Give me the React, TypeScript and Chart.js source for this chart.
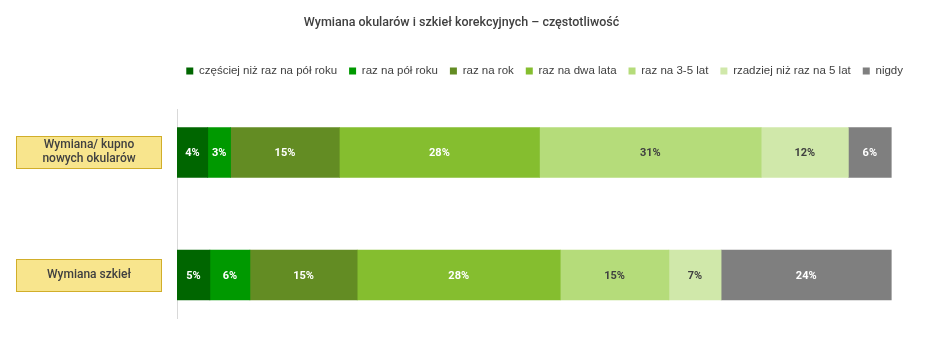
import React, { useEffect, useRef } from "react";
import { Chart, registerables } from "chart.js";

Chart.register(...registerables);

const title = "Wymiana okularów i szkieł korekcyjnych – częstotliwość";
const categories = ["Wymiana/ kupno\nnowych okularów", "Wymiana szkieł"];
const seriesNames = [
  "częściej niż raz na pół roku",
  "raz na pół roku",
  "raz na rok",
  "raz na dwa lata",
  "raz na 3-5 lat",
  "rzadziej niż raz na 5 lat",
  "nigdy",
];
const okulary = [4.3, 3.2, 15.2, 28.0, 31.0, 12.2, 6.0];
const szkla = [4.6, 5.6, 15.0, 28.4, 15.2, 7.3, 23.8];
const colors = ["#006600", "#009900", "#638C23", "#85BE2F", "#B5DC7A", "#D0E8AA", "#7F7F7F"];
const labelColors = ["#ffffff", "#ffffff", "#ffffff", "#ffffff", "#404040", "#404040", "#ffffff"];

const valueLabels = {
  id: "valueLabels",
  afterDatasetsDraw(chart: any) {
    const ctx = chart.ctx;
    ctx.save();
    ctx.font = "bold 11px Roboto";
    ctx.textAlign = "center";
    ctx.textBaseline = "middle";
    chart.data.datasets.forEach((ds: any, di: number) => {
      const meta = chart.getDatasetMeta(di);
      meta.data.forEach((el: any, i: number) => {
        const v = ds.data[i].x;
        const cx = (el.x + el.base) / 2;
        ctx.fillStyle = labelColors[di];
        ctx.fillText(Math.round(v) + "%", cx, el.y + 1);
      });
    });
    ctx.restore();
  },
};

const categoryBoxes = {
  id: "categoryBoxes",
  afterDraw(chart: any) {
    const ctx = chart.ctx;
    const ys = chart.scales.y;
    const right = chart.chartArea.left - 16;
    const w = 145;
    const h = 32;
    ctx.save();
    categories.forEach((c, i) => {
      const cy = ys.getPixelForValue(i);
      const top = Math.round(cy - h / 2) + 0.5;
      const left = Math.round(right - w) + 0.5;
      ctx.fillStyle = "#F8E58D";
      ctx.fillRect(left, top, w, h);
      ctx.strokeStyle = "#D1AE2A";
      ctx.lineWidth = 1;
      ctx.strokeRect(left, top, w, h);
      ctx.fillStyle = "#404040";
      ctx.font = "500 12px Roboto";
      ctx.textAlign = "center";
      ctx.textBaseline = "middle";
      const lines = c.split("\n");
      const lh = 14;
      lines.forEach((ln, k) => {
        ctx.fillText(ln, left + w / 2, cy + (k - (lines.length - 1) / 2) * lh);
      });
    });
    ctx.restore();
  },
};

export default function App() {
  const ref = useRef<HTMLCanvasElement>(null);
  useEffect(() => {
    if (!ref.current) return;
    const chart = new Chart(ref.current, {
      type: "bar",
      data: {
        datasets: seriesNames.map((name, si) => ({
          label: name,
          data: [
            { x: okulary[si], y: 0 },
            { x: szkla[si], y: 1 },
          ],
          backgroundColor: colors[si],
          borderWidth: 0,
          barThickness: 50,
        })),
      },
      options: {
        indexAxis: "y",
        animation: false,
        responsive: true,
        maintainAspectRatio: false,
        layout: { padding: { top: 0, bottom: 32, left: 0, right: 8 } },
        scales: {
          x: {
            type: "linear",
            stacked: true,
            min: 0,
            max: 100,
            display: false,
          },
          x2: {
            type: "linear",
            position: "top",
            display: true,
            ticks: { display: false },
            grid: { display: false },
            border: { display: false },
            afterFit: (s: any) => {
              s.height = 22.25;
            },
          },
          y: {
            type: "linear",
            stacked: true,
            reverse: true,
            offset: false,
            bounds: "data",
            min: -0.355,
            max: 1.351,
            ticks: { display: false },
            grid: { display: false, offset: false },
            border: { display: true, color: "#D9D9D9", width: 1 },
            afterFit: (s: any) => {
              s.width = 169;
            },
          },
          y2: {
            type: "linear",
            position: "right",
            display: true,
            ticks: { display: false },
            grid: { display: false },
            border: { display: false },
            afterFit: (s: any) => {
              s.width = 23;
            },
          },
        },
        plugins: {
          title: {
            display: true,
            text: title,
            color: "#404040",
            font: { family: "Roboto", size: 12.5, weight: "500" },
            padding: { top: 7, bottom: 23.25 },
          },
          legend: {
            display: true,
            position: "top",
            align: "end",
            labels: {
              boxWidth: 7,
              boxHeight: 7,
              padding: 12,
              color: "#404040",
              font: { family: "Liberation Sans", size: 11.5 },
            },
          },
          tooltip: { enabled: false },
        },
      },
      plugins: [valueLabels, categoryBoxes],
    });
    return () => chart.destroy();
  }, []);
  return (
    <div style={{ width: 915, height: 342, position: "relative" }}>
      <canvas ref={ref} />
    </div>
  );
}
